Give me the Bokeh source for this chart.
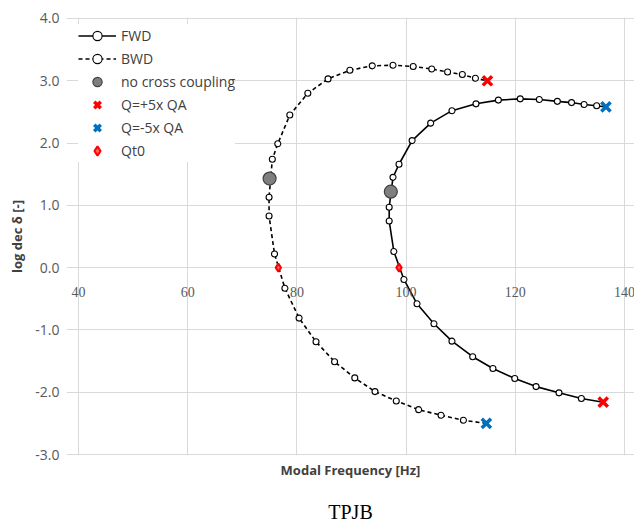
from bokeh.plotting import figure
from bokeh.models import (Legend, LegendItem, FixedTicker, Range1d, LabelSet,
                          ColumnDataSource, LinearAxis)
from bokeh.embed import file_html
from bokeh.resources import INLINE

# ---- data ----
fwd_freq = [134.9, 132.6, 130.3, 127.7, 124.4, 120.9, 116.9, 112.8, 108.4, 104.5, 101.1, 98.7,
            97.6, 96.9, 96.9, 97.75, 99.6, 102.0, 105.1, 108.4, 112.2, 115.9, 119.9, 123.8, 128.0, 132.1]
fwd_logdec = [2.60, 2.62, 2.65, 2.67, 2.70, 2.71, 2.69, 2.63, 2.52, 2.32, 2.04, 1.66,
              1.45, 0.97, 0.75, 0.26, -0.19, -0.58, -0.90, -1.18, -1.43, -1.62, -1.78, -1.91, -2.01, -2.10]

bwd_freq = [110.5, 106.4, 102.3, 98.2, 94.3, 90.6, 86.9, 83.5, 80.4, 77.8, 75.9, 74.9, 74.9,
            75.5, 76.5, 78.7, 82.0, 85.7, 89.7, 93.8, 97.6, 101.3, 104.7, 107.6, 110.3, 112.7]
bwd_logdec = [-2.45, -2.37, -2.28, -2.14, -1.99, -1.77, -1.51, -1.19, -0.81, -0.33, 0.22, 0.83, 1.13,
              1.74, 1.99, 2.45, 2.80, 3.03, 3.17, 3.24, 3.25, 3.23, 3.19, 3.14, 3.10, 3.04]

nocc_freq = [75.0, 97.2]          # no cross coupling
nocc_logdec = [1.43, 1.22]
qpos_freq = [114.9, 136.1]        # Q=+5x QA  (BWD end, FWD end)
qpos_logdec = [3.00, -2.16]
qneg_freq = [136.6, 114.7]        # Q=-5x QA  (FWD start, BWD start)
qneg_logdec = [2.58, -2.50]
qt0_freq = [76.6, 98.7]           # Qt0
qt0_logdec = [0.0, 0.0]

x_ticks = [40, 60, 80, 100, 120, 140]
x_tick_labels = ["40", "60", "80", "100", "120", "140"]
y_ticks = [-3, -2, -1, 0, 1, 2, 3, 4]
y_tick_labels = ["-3.0", "-2.0", "-1.0", "0.0", "1.0", "2.0", "3.0", "4.0"]

# ---- figure ----
# the frame is a little wider than the gridded 40..140 area so that the
# "40" tick label at the left edge is not clipped
p = figure(width=634, height=525, x_range=Range1d(37.802, 141.83), y_range=Range1d(-3.016, 4.016),
           output_backend="svg", toolbar_location=None,
           min_border_left=66, min_border_right=0, min_border_top=17, min_border_bottom=69)
p.background_fill_color = "white"
p.border_fill_color = "white"
p.outline_line_color = None

GRID = "#d9d9d9"
p.xgrid[0].ticker = FixedTicker(ticks=x_ticks)
p.ygrid[0].ticker = FixedTicker(ticks=y_ticks)
p.xgrid[0].bounds = (y_ticks[0], y_ticks[-1])
p.ygrid[0].bounds = (x_ticks[0], x_ticks[-1])
for g in (p.xgrid[0], p.ygrid[0]):
    g.grid_line_color = GRID
    g.grid_line_width = 1

# x axis: only the title below; tick labels sit at y = 0
xa = p.xaxis[0]
xa.ticker = FixedTicker(ticks=[])
xa.axis_line_color = None
xa.major_tick_line_color = None
xa.minor_tick_line_color = None
xa.axis_label = "Modal Frequency [Hz]"
xa.axis_label_text_font = "Open Sans"
xa.axis_label_text_font_size = "13px"
xa.axis_label_text_font_style = "bold"
xa.axis_label_text_color = "#404040"
xa.axis_label_standoff = 5

# caption below the chart
cap = LinearAxis(ticker=FixedTicker(ticks=[]), axis_line_color=None,
                 major_tick_line_color=None, minor_tick_line_color=None,
                 axis_label="TPJB", axis_label_text_font="Liberation Serif",
                 axis_label_text_font_size="20px", axis_label_text_font_style="normal",
                 axis_label_text_color="black", axis_label_standoff=19)
p.add_layout(cap, "below")

ya = p.yaxis[0]
ya.ticker = FixedTicker(ticks=y_ticks)
ya.major_label_overrides = {t: l for t, l in zip(y_ticks, y_tick_labels)}
ya.axis_line_color = None
ya.major_tick_line_color = None
ya.minor_tick_line_color = None
ya.major_label_standoff = 1
ya.major_label_text_font = "Open Sans"
ya.major_label_text_font_size = "14px"
ya.major_label_text_color = "#595959"
ya.axis_label = "log dec δ [-]"
ya.axis_label_text_font = "Open Sans"
ya.axis_label_text_font_size = "13px"
ya.axis_label_text_font_style = "bold"
ya.axis_label_text_color = "#404040"
ya.axis_label_standoff = 6

xt_src = ColumnDataSource(dict(x=x_ticks, y=[0] * len(x_ticks), t=x_tick_labels))
p.add_layout(LabelSet(x="x", y="y", text="t", source=xt_src, text_align="center",
                      text_baseline="middle", y_offset=-24, text_font="Open Sans",
                      text_font_size="14px", text_color="#595959"))

# ---- series ----
fwd_line_x = [qneg_freq[0]] + fwd_freq + [qpos_freq[1]]
fwd_line_y = [qneg_logdec[0]] + fwd_logdec + [qpos_logdec[1]]
bwd_line_x = [qneg_freq[1]] + bwd_freq + [qpos_freq[0]]
bwd_line_y = [qneg_logdec[1]] + bwd_logdec + [qpos_logdec[0]]

r_fl = p.line(fwd_line_x, fwd_line_y, line_color="black", line_width=1.6)
r_bl = p.line(bwd_line_x, bwd_line_y, line_color="black", line_width=1.6, line_dash="4 3")
r_fm = p.scatter(fwd_freq, fwd_logdec, marker="circle", size=6, fill_color="white",
                 line_color="black", line_width=1.1)
r_bm = p.scatter(bwd_freq, bwd_logdec, marker="circle", size=6, fill_color="white",
                 line_color="black", line_width=1.1)
r_nc = p.scatter(nocc_freq, nocc_logdec, marker="circle", size=13, fill_color="#7f7f7f",
                 line_color="#404040", line_width=1.2)
r_qt = p.scatter(qt0_freq, qt0_logdec, marker="diamond", size=8, fill_color="#ff6666",
                 line_color="#ff0000", line_width=2)
r_qp = p.scatter(qpos_freq, qpos_logdec, marker="x", size=13, line_color="#ff0000", line_width=3.5)
r_qn = p.scatter(qneg_freq, qneg_logdec, marker="x", size=13, line_color="#0070c0", line_width=3.5)

legend = Legend(items=[
    LegendItem(label="FWD", renderers=[r_fl, r_fm]),
    LegendItem(label="BWD", renderers=[r_bl, r_bm]),
    LegendItem(label="no cross coupling", renderers=[r_nc]),
    LegendItem(label="Q=+5x QA", renderers=[r_qp]),
    LegendItem(label="Q=-5x QA", renderers=[r_qn]),
    LegendItem(label="Qt0", renderers=[r_qt]),
], location=(12, 293), glyph_width=38, glyph_height=23, label_height=23, spacing=0,
    padding=0, margin=0, border_line_color=None, background_fill_color="white",
    background_fill_alpha=1.0, label_text_font="Open Sans", label_text_font_size="14px",
    label_text_color="#404040", label_standoff=5)
p.add_layout(legend)

open("out.html", "w").write(file_html(p, INLINE))
